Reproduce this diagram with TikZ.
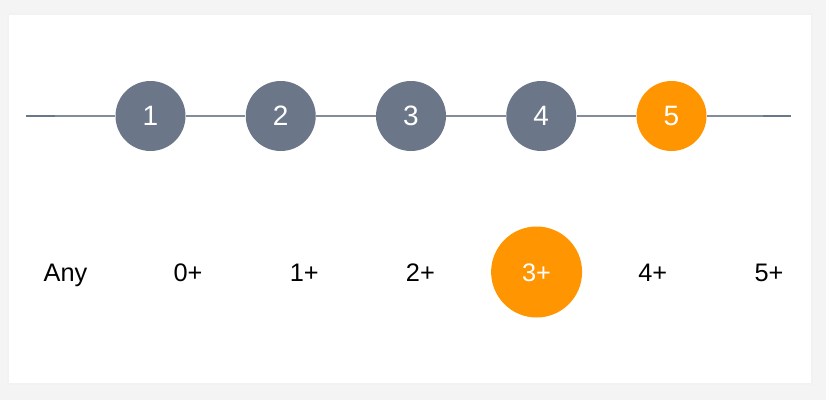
\documentclass[tikz,border=0pt]{standalone}
\usepackage{fontspec}
\setmainfont{Liberation Sans}
\usepackage{xcolor}
\usepackage{tikz}
\usetikzlibrary{positioning}

\definecolor{slate}{HTML}{6C7689}
\definecolor{slatelight}{HTML}{838C9D}
\definecolor{pickorange}{HTML}{FF9500}
\definecolor{pagegray}{HTML}{F4F4F4}

\begin{document}
\begin{tikzpicture}[
    x=0.75pt, y=-0.75pt,
    stepdot/.style={circle, fill=slate, text=white, minimum size=52.5pt, inner sep=0pt, font=\fontsize{21}{24}\selectfont},
    stepnow/.style={stepdot, fill=pickorange},
    level/.style={text=black, inner sep=0pt, text height=14pt, text depth=0pt, font=\fontsize{19}{22}\selectfont},
    levelnow/.style={level, circle, fill=pickorange, text=white, minimum size=68.25pt}
]
    % Page and card
    \useasboundingbox (0,0) rectangle (826,400);
    \fill[pagegray] (0,0) rectangle (826,400);
    \fill[black!5] (7,13) rectangle (813,385);
    \fill[white] (9,15) rectangle (811,383);

    % Line ends
    \coordinate (lend) at (26,116);
    \coordinate (lmark) at (55,116);
    \coordinate (rmark) at (763,116);
    \coordinate (rend) at (791,116);

    % Steps
    \node[stepdot] (s1) at (150.5,116) {1};
    \node[stepdot] (s2) at (280.75,116) {2};
    \node[stepdot] (s3) at (411,116) {3};
    \node[stepdot] (s4) at (541.25,116) {4};
    \node[stepnow] (s5) at (671.5,116) {5};

    % Track
    \draw[slatelight, line width=1.5pt] (lend) -- (s1) -- (s2) -- (s3) -- (s4) -- (s5) -- (rend);
    \draw[slate, line width=1.5pt] (lend) -- (lmark);
    \draw[slate, line width=1.5pt] (rmark) -- (rend);

    % Levels
    \node[level] (any) at (65.5,272.5) {Any};
    \node[level] (l0) at (188,272.5) {0+};
    \node[level] (l1) at (304.2,272.5) {1+};
    \node[level] (l2) at (420.4,272.5) {2+};
    \node[levelnow] (l3) at (536.6,272) {3+};
    \node[level] (l4) at (652.8,272.5) {4+};
    \node[level] (l5) at (769,272.5) {5+};
\end{tikzpicture}
\end{document}
